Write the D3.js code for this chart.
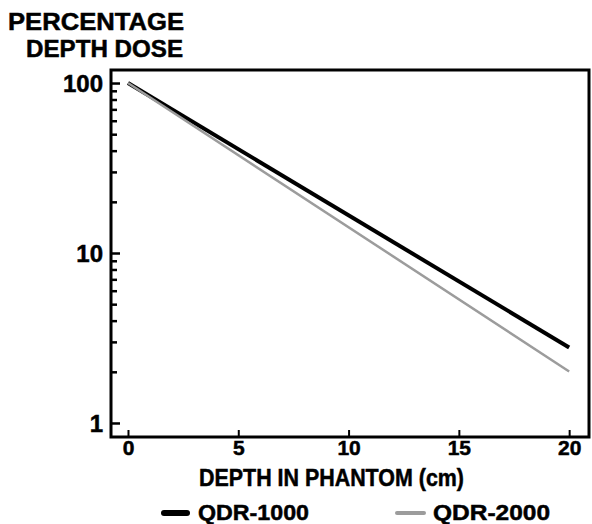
<!DOCTYPE html>
<html>
<head>
<meta charset="utf-8">
<script src="https://cdn.jsdelivr.net/npm/d3@7"></script>
<style>
  body { margin: 0; background: #fff; }
  text { font-family: "Liberation Sans", Arial, sans-serif; font-weight: bold; fill: #000; stroke: #000; stroke-width: 0.5px; }
</style>
</head>
<body>
<div id="chart"></div>
<script>
// depth in phantom (cm) and percentage depth dose
const depth = [0, 20];
const qdr1000 = [100, 2.78];
const qdr2000 = [100, 2.01];
const seriesNames = ["QDR-1000", "QDR-2000"];
const xTicks = [0, 5, 10, 15, 20];
const yMajor = [1, 10, 100];
const yMinor = [2, 3, 4, 5, 6, 7, 8, 9, 20, 30, 40, 50, 60, 70, 80, 90];

const W = 592, H = 524;
const frame = { left: 111, right: 589, top: 70, bottom: 437 };

const svg = d3.select("#chart").append("svg")
  .attr("width", W)
  .attr("height", H);

const x = d3.scaleLinear()
  .domain([-0.77, 20.9])
  .range([frame.left, frame.right]);

const y = d3.scaleLog()
  .domain([0.827, 119.3])
  .range([frame.bottom, frame.top]);

// y axis: major ticks with labels, minor ticks inside
svg.append("g")
  .attr("transform", `translate(${frame.left},0)`)
  .call(d3.axisLeft(y).tickValues(yMajor).tickSize(-9).tickPadding(8).tickFormat(d3.format("d")))
  .call(g => g.select(".domain").remove())
  .call(g => g.selectAll("line").attr("stroke-width", 2.5))
  .call(g => g.selectAll("text").style("font-size", "24px").attr("dy", "0.36em"));

svg.append("g")
  .attr("transform", `translate(${frame.left},0)`)
  .call(d3.axisLeft(y).tickValues(yMinor).tickSize(-6).tickFormat(""))
  .call(g => g.select(".domain").remove())
  .call(g => g.selectAll("line").attr("stroke-width", 2.5));

// x axis
svg.append("g")
  .attr("transform", `translate(0,${frame.bottom})`)
  .call(d3.axisBottom(x).tickValues(xTicks).tickSize(-7).tickPadding(4))
  .call(g => g.select(".domain").remove())
  .call(g => g.selectAll("line").attr("stroke-width", 2))
  .call(g => g.selectAll("text").style("font-size", "21px").attr("dy", "0.68em"));

// frame
svg.append("rect")
  .attr("x", frame.left)
  .attr("y", frame.top)
  .attr("width", frame.right - frame.left)
  .attr("height", frame.bottom - frame.top)
  .attr("fill", "none")
  .attr("stroke", "#000")
  .attr("stroke-width", 3);

const line = d3.line()
  .x((d, i) => x(depth[i]))
  .y(d => y(d));

svg.append("path")
  .datum(qdr1000)
  .attr("d", line)
  .attr("fill", "none")
  .attr("stroke", "#000")
  .attr("stroke-width", 4);

svg.append("path")
  .datum(qdr2000)
  .attr("d", line)
  .attr("fill", "none")
  .attr("stroke", "#9c9c9c")
  .attr("stroke-width", 2.5);

// titles
svg.append("text")
  .attr("x", 8).attr("y", 30)
  .attr("textLength", 176).attr("lengthAdjust", "spacingAndGlyphs")
  .style("font-size", "24px")
  .text("PERCENTAGE");

svg.append("text")
  .attr("x", 26).attr("y", 57)
  .attr("textLength", 157).attr("lengthAdjust", "spacingAndGlyphs")
  .style("font-size", "24px")
  .text("DEPTH DOSE");

svg.append("text")
  .attr("x", 199).attr("y", 486)
  .attr("textLength", 265).attr("lengthAdjust", "spacingAndGlyphs")
  .style("font-size", "24px")
  .text("DEPTH IN PHANTOM (cm)");

// legend
const legend = [
  { name: seriesNames[0], x1: 164, x2: 187, tx: 198, len: 111, color: "#000", width: 6 },
  { name: seriesNames[1], x1: 397, x2: 424, tx: 433, len: 117, color: "#9c9c9c", width: 4 }
];

const lg = svg.append("g").selectAll("g")
  .data(legend)
  .join("g");

lg.append("line")
  .attr("x1", d => d.x1).attr("x2", d => d.x2)
  .attr("y1", 513).attr("y2", 513)
  .attr("stroke", d => d.color)
  .attr("stroke-width", d => d.width)
  .attr("stroke-linecap", "round");

lg.append("text")
  .attr("x", d => d.tx)
  .attr("y", 520)
  .attr("textLength", d => d.len)
  .attr("lengthAdjust", "spacingAndGlyphs")
  .style("font-size", "22px")
  .text(d => d.name);
</script>
</body>
</html>
